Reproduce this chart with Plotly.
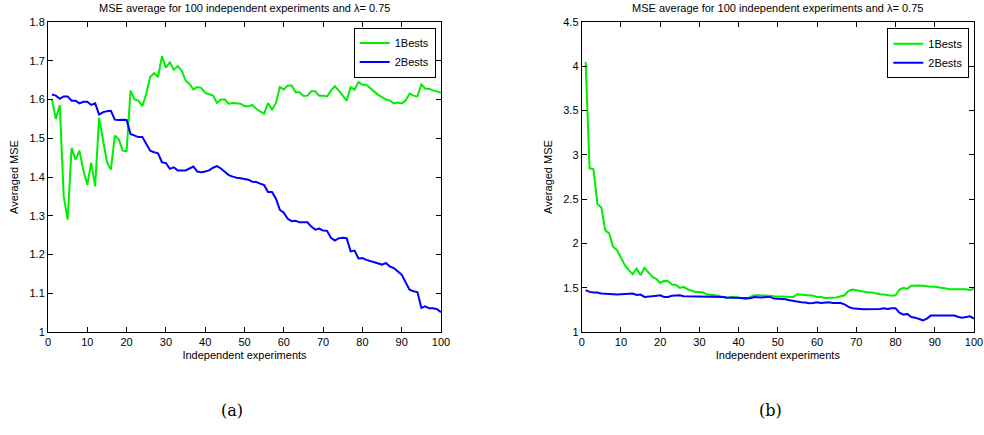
import plotly.graph_objects as go

x_vals = list(range(1, 101))

a_1bests = [1.60, 1.55, 1.585, 1.35, 1.29, 1.475, 1.445, 1.468, 1.417, 1.38,
            1.437, 1.376, 1.553, 1.49, 1.438, 1.419, 1.507, 1.497, 1.468, 1.467,
            1.623, 1.60, 1.597, 1.583, 1.615, 1.658, 1.668, 1.658, 1.712, 1.682,
            1.696, 1.677, 1.686, 1.675, 1.649, 1.64, 1.626, 1.632, 1.63, 1.617,
            1.613, 1.61, 1.591, 1.60, 1.60, 1.589, 1.591, 1.59, 1.589, 1.583,
            1.582, 1.586, 1.576, 1.569, 1.563, 1.591, 1.574, 1.591, 1.632, 1.626,
            1.636, 1.636, 1.619, 1.619, 1.609, 1.61, 1.621, 1.621, 1.61, 1.61,
            1.608, 1.623, 1.634, 1.623, 1.609, 1.597, 1.632, 1.625, 1.645, 1.638,
            1.638, 1.629, 1.621, 1.612, 1.606, 1.60, 1.597, 1.59, 1.592, 1.59,
            1.597, 1.615, 1.61, 1.608, 1.639, 1.628, 1.628, 1.623, 1.621, 1.617]

a_2bests = [1.613, 1.61, 1.602, 1.608, 1.608, 1.597, 1.597, 1.59, 1.594, 1.594,
            1.586, 1.59, 1.561, 1.567, 1.57, 1.571, 1.548, 1.547, 1.548, 1.547,
            1.511, 1.508, 1.503, 1.503, 1.486, 1.468, 1.464, 1.461, 1.438, 1.436,
            1.421, 1.425, 1.417, 1.417, 1.417, 1.422, 1.427, 1.414, 1.412, 1.414,
            1.417, 1.424, 1.428, 1.422, 1.414, 1.405, 1.401, 1.398, 1.397, 1.395,
            1.393, 1.388, 1.387, 1.383, 1.379, 1.361, 1.361, 1.344, 1.315, 1.308,
            1.292, 1.286, 1.287, 1.283, 1.283, 1.283, 1.272, 1.264, 1.267, 1.262,
            1.261, 1.243, 1.236, 1.242, 1.243, 1.242, 1.208, 1.21, 1.19, 1.191,
            1.186, 1.183, 1.181, 1.178, 1.174, 1.178, 1.169, 1.165, 1.157, 1.148,
            1.128, 1.109, 1.105, 1.103, 1.062, 1.066, 1.061, 1.061, 1.059, 1.051]

b_1bests = [4.05, 2.848, 2.84, 2.445, 2.407, 2.15, 2.113, 1.962, 1.924, 1.842,
            1.755, 1.698, 1.653, 1.717, 1.641, 1.724, 1.668, 1.622, 1.60, 1.554,
            1.577, 1.573, 1.536, 1.53, 1.498, 1.51, 1.483, 1.468, 1.453, 1.453,
            1.446, 1.423, 1.423, 1.415, 1.408, 1.396, 1.385, 1.396, 1.396, 1.389,
            1.377, 1.37, 1.396, 1.415, 1.415, 1.415, 1.41, 1.408, 1.405, 1.404,
            1.40, 1.396, 1.396, 1.396, 1.426, 1.423, 1.415, 1.415, 1.408, 1.396,
            1.396, 1.385, 1.385, 1.389, 1.389, 1.404, 1.415, 1.464, 1.479, 1.472,
            1.464, 1.453, 1.446, 1.446, 1.434, 1.426, 1.423, 1.415, 1.408, 1.415,
            1.479, 1.498, 1.487, 1.521, 1.524, 1.524, 1.521, 1.513, 1.51, 1.51,
            1.502, 1.502, 1.491, 1.483, 1.483, 1.483, 1.491, 1.483, 1.472, 1.491]

b_2bests = [1.472, 1.453, 1.446, 1.446, 1.434, 1.434, 1.426, 1.426, 1.423, 1.426,
            1.426, 1.426, 1.434, 1.419, 1.423, 1.396, 1.396, 1.404, 1.408, 1.415,
            1.396, 1.396, 1.408, 1.408, 1.415, 1.404, 1.404, 1.404, 1.404, 1.404,
            1.404, 1.404, 1.404, 1.404, 1.404, 1.396, 1.389, 1.389, 1.389, 1.381,
            1.389, 1.381, 1.381, 1.396, 1.389, 1.389, 1.396, 1.396, 1.377, 1.377,
            1.377, 1.37, 1.359, 1.351, 1.336, 1.336, 1.332, 1.325, 1.328, 1.336,
            1.328, 1.336, 1.336, 1.328, 1.328, 1.328, 1.313, 1.283, 1.268, 1.268,
            1.26, 1.257, 1.257, 1.257, 1.257, 1.26, 1.268, 1.26, 1.268, 1.268,
            1.219, 1.196, 1.204, 1.17, 1.162, 1.151, 1.132, 1.151, 1.185, 1.185,
            1.185, 1.185, 1.185, 1.185, 1.185, 1.17, 1.162, 1.17, 1.177, 1.151]

series_names = ["1Bests", "2Bests"]
series_colors = ["#00ee00", "#0000ff"]

title_text = "MSE average for 100 independent experiments and \u03bb= 0.75"
x_title = "Independent experiments"
y_title = "Averaged MSE"
captions = ["(a)", "(b)"]

a_ticks = [1.0, 1.1, 1.2, 1.3, 1.4, 1.5, 1.6, 1.7, 1.8]
a_ticktext = ["1", "1.1", "1.2", "1.3", "1.4", "1.5", "1.6", "1.7", "1.8"]
b_ticks = [1.0, 1.5, 2.0, 2.5, 3.0, 3.5, 4.0, 4.5]
b_ticktext = ["1", "1.5", "2", "2.5", "3", "3.5", "4", "4.5"]
x_ticks = list(range(0, 101, 10))

W, H = 984, 435
ML, MR, MT, MB = 48, 10, 22, 103
PW = W - ML - MR
PH = H - MT - MB

left_dom = [0, 393 / PW]
right_dom = [(581.7 - ML) / PW, 1.0]

FONT = "Liberation Sans"

fig = go.Figure()

for name, col, ys in zip(series_names, series_colors, [a_1bests, a_2bests]):
    fig.add_trace(go.Scatter(x=x_vals, y=ys, mode="lines", name=name,
                             line=dict(color=col, width=2), xaxis="x", yaxis="y",
                             legend="legend"))
for name, col, ys in zip(series_names, series_colors, [b_1bests, b_2bests]):
    fig.add_trace(go.Scatter(x=x_vals, y=ys, mode="lines", name=name,
                             line=dict(color=col, width=2), xaxis="x2", yaxis="y2",
                             legend="legend2"))

axis_common = dict(showline=True, linecolor="black", linewidth=1, mirror="ticks",
                   ticks="inside", ticklen=5, tickcolor="black", showgrid=False,
                   zeroline=False, automargin=False,
                   tickfont=dict(family=FONT, size=11, color="black"))

fig.update_layout(
    width=W, height=H,
    margin=dict(l=ML, r=MR, t=MT, b=MB, autoexpand=False),
    paper_bgcolor="white", plot_bgcolor="white",
    font=dict(family=FONT, size=11, color="black"),
    xaxis=dict(domain=left_dom, range=[0, 100], tickvals=x_ticks, anchor="y",
               title=dict(text=x_title, font=dict(size=11), standoff=4), **axis_common),
    yaxis=dict(domain=[0, 1], range=[1, 1.8], tickvals=a_ticks, ticktext=a_ticktext,
               anchor="x", title=dict(text=y_title, font=dict(size=11), standoff=8),
               **axis_common),
    xaxis2=dict(domain=right_dom, range=[0, 100], tickvals=x_ticks, anchor="y2",
                title=dict(text=x_title, font=dict(size=11), standoff=4), **axis_common),
    yaxis2=dict(domain=[0, 1], range=[1, 4.5], tickvals=b_ticks, ticktext=b_ticktext,
                anchor="x2", title=dict(text=y_title, font=dict(size=11), standoff=8),
                **axis_common),
    legend=dict(x=(435.7 - ML) / PW, y=0.982, xanchor="right", yanchor="top",
                bordercolor="black", borderwidth=1, bgcolor="white",
                font=dict(family=FONT, size=11), tracegroupgap=0),
    legend2=dict(x=(969.3 - ML) / PW, y=0.98, xanchor="right", yanchor="top",
                 bordercolor="black", borderwidth=1, bgcolor="white",
                 font=dict(family=FONT, size=11), tracegroupgap=0),
    showlegend=True,
)

title_y = 1 + 14 / PH
cap_y = 1 - (410 - MT) / PH
for cx, cap, tx in [((232 - ML) / PW, captions[0], sum(left_dom) / 2),
                    ((770 - ML) / PW, captions[1], sum(right_dom) / 2)]:
    fig.add_annotation(x=tx, y=title_y, xref="paper", yref="paper", text=title_text,
                       showarrow=False, xanchor="center", yanchor="middle",
                       font=dict(family=FONT, size=11, color="black"))
    fig.add_annotation(x=cx, y=cap_y, xref="paper", yref="paper", text=cap,
                       showarrow=False, xanchor="center", yanchor="middle",
                       font=dict(family="DejaVu Serif", size=16, color="black"))

fig.write_html("out.html")
